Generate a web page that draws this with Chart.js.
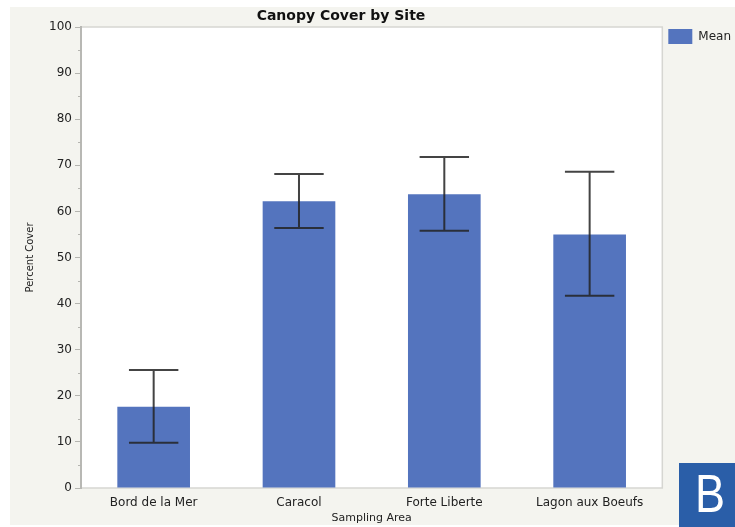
<!DOCTYPE html>
<html>
<head>
<meta charset="utf-8">
<script src="https://cdn.jsdelivr.net/npm/chart.js@4/dist/chart.umd.min.js"></script>
<style>
  html, body { margin: 0; padding: 0; background: #ffffff; }
  #wrap { width: 735px; height: 527px; }
</style>
</head>
<body>
<div id="wrap"><canvas id="c" width="735" height="527"></canvas></div>
<script>
// Canopy cover by sampling area: mean with error range
const sites = ['Bord de la Mer', 'Caracol', 'Forte Liberte', 'Lagon aux Boeufs'];
const meanCover = [17.6, 62.2, 63.7, 55.0];
const errLow = [9.8, 56.4, 55.8, 41.7];
const errHigh = [25.6, 68.1, 71.8, 68.6];
const chartTitle = 'Canopy Cover by Site';
const panelLetter = 'B';

const FONT = '"DejaVu Sans", "Liberation Sans", sans-serif';

// Page background, plot frame, error bars, minor ticks, title and panel tag
const decor = {
  id: 'decor',
  afterLayout(chart) {
    // lift the legend so its swatch sits level with the top of the plot
    if (chart.legend) {
      chart.legend.top -= 4;
      chart.legend.bottom -= 4;
    }
  },
  beforeDraw(chart) {
    const { ctx, chartArea: a } = chart;
    ctx.save();
    ctx.fillStyle = '#ffffff';
    ctx.fillRect(0, 0, chart.width, chart.height);
    ctx.fillStyle = '#f4f4ef';
    ctx.fillRect(10, 7, chart.width - 10, chart.height - 9);
    ctx.fillStyle = '#ffffff';
    ctx.fillRect(a.left, a.top, a.right - a.left, a.bottom - a.top);
    ctx.strokeStyle = '#d6d6d2';
    ctx.lineWidth = 1.5;
    ctx.strokeRect(a.left, a.top, a.right - a.left, a.bottom - a.top);
    ctx.restore();
  },
  afterDatasetsDraw(chart) {
    const { ctx } = chart;
    const y = chart.scales.y;
    const meta = chart.getDatasetMeta(0);
    ctx.save();
    ctx.strokeStyle = 'rgba(35,35,35,0.85)';
    ctx.lineWidth = 2;
    meta.data.forEach((bar, i) => {
      const cx = bar.x;
      const yl = y.getPixelForValue(errLow[i]);
      const yh = y.getPixelForValue(errHigh[i]);
      const half = bar.width * 0.34;
      ctx.beginPath();
      ctx.moveTo(cx, yl); ctx.lineTo(cx, yh);
      ctx.moveTo(cx - half, yl); ctx.lineTo(cx + half, yl);
      ctx.moveTo(cx - half, yh); ctx.lineTo(cx + half, yh);
      ctx.stroke();
    });
    // minor ticks on the value axis
    ctx.strokeStyle = '#b5b5b0';
    ctx.lineWidth = 1;
    for (let v = 5; v < 100; v += 10) {
      const py = Math.round(y.getPixelForValue(v)) + 0.5;
      ctx.beginPath();
      ctx.moveTo(y.right - 3, py); ctx.lineTo(y.right, py);
      ctx.stroke();
    }
    ctx.restore();
  },
  afterDraw(chart) {
    const { ctx } = chart;
    ctx.save();
    ctx.fillStyle = '#111111';
    ctx.font = 'bold 14px ' + FONT;
    ctx.textAlign = 'center';
    ctx.textBaseline = 'middle';
    ctx.fillText(chartTitle, 341, 16);
    // panel tag
    ctx.fillStyle = '#2a5ea8';
    ctx.fillRect(679, 463, 56, 64);
    ctx.fillStyle = '#ffffff';
    ctx.textBaseline = 'alphabetic';
    ctx.translate(710, 512);
    ctx.scale(0.85, 1);
    ctx.font = '53px "Liberation Sans", Arial, sans-serif';
    ctx.fillText(panelLetter, 0, 0);
    ctx.restore();
  }
};

new Chart(document.getElementById('c'), {
  type: 'bar',
  data: {
    labels: sites,
    datasets: [{
      label: 'Mean',
      data: meanCover,
      backgroundColor: '#5474be',
      borderWidth: 0,
      categoryPercentage: 1,
      barPercentage: 0.5
    }]
  },
  options: {
    responsive: false,
    animation: false,
    layout: { padding: { top: 27, left: 10, right: -6, bottom: 2 } },
    plugins: {
      title: { display: false },
      tooltip: { enabled: false },
      legend: {
        position: 'right',
        align: 'start',
        labels: {
          boxWidth: 24,
          boxHeight: 15,
          padding: 6,
          color: '#222',
          font: { family: FONT, size: 12 }
        }
      }
    },
    scales: {
      x: {
        grid: { display: false },
        border: { display: false },
        ticks: { color: '#222', padding: 0, font: { family: FONT, size: 12 } },
        title: {
          display: true,
          text: 'Sampling Area',
          color: '#222',
          padding: { top: 3, bottom: 0 },
          font: { family: FONT, size: 11 }
        },
        afterFit(s) { s.height = 37; }
      },
      y: {
        min: 0,
        max: 100,
        ticks: {
          stepSize: 5,
          color: '#222',
          padding: 3,
          font: { family: FONT, size: 12 },
          callback: v => (v % 10 === 0 ? v : '')
        },
        grid: {
          drawOnChartArea: false,
          tickLength: 6,
          tickColor: c => (c.tick && c.tick.value % 10 === 0 ? '#b5b5b0' : 'rgba(0,0,0,0)')
        },
        border: { display: true, color: '#b8b8b4', width: 2 },
        title: {
          display: true,
          text: 'Percent Cover',
          color: '#222',
          padding: { top: 14, bottom: 0 },
          font: { family: FONT, size: 10 }
        },
        afterFit(s) { s.width = 71; }
      }
    }
  },
  plugins: [decor]
});
</script>
</body>
</html>
